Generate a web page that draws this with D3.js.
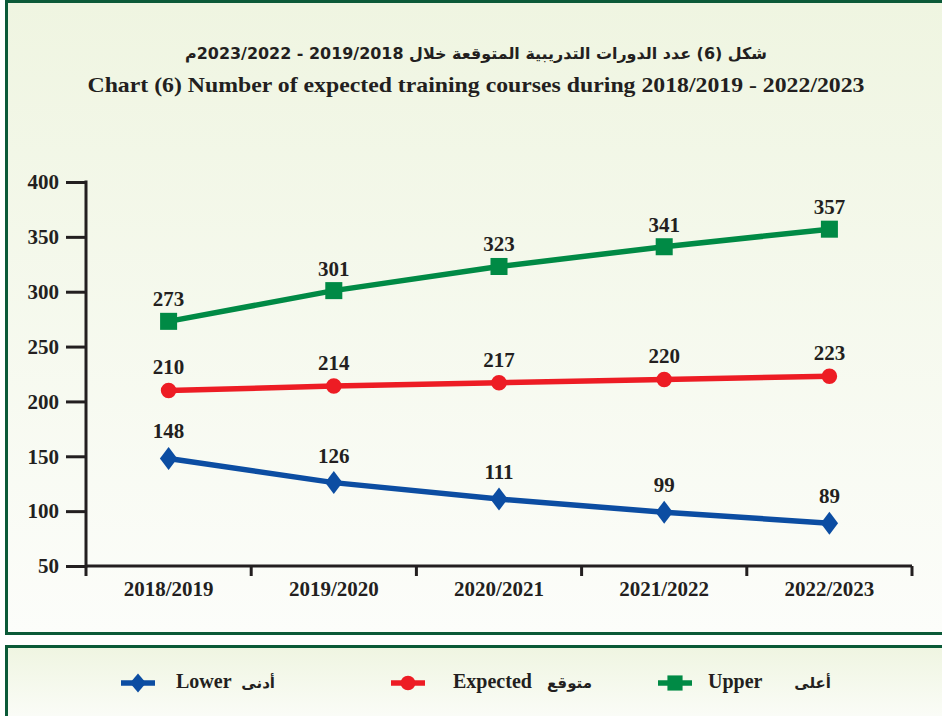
<!DOCTYPE html>
<html><head><meta charset="utf-8">
<script src="https://cdn.jsdelivr.net/npm/d3@7"></script>
<style>html,body{margin:0;padding:0;background:#fff}svg{display:block}</style>
</head><body>
<script>
const categories = ["2018/2019","2019/2020","2020/2021","2021/2022","2022/2023"];
const upper = [273,301,323,341,357];
const expected = [210,214,217,220,223];
const lower = [148,126,111,99,89];
const yTicks = [50,100,150,200,250,300,350,400];
const titleAr = "شكل (6) عدد الدورات التدريبية المتوقعة خلال 2019/2018 - 2023/2022م";
const titleEn = "Chart (6) Number of expected training courses during 2018/2019 - 2022/2023";
const seriesNames = [
  {en:"Lower", ar:"أدنى"},
  {en:"Expected", ar:"متوقع"},
  {en:"Upper", ar:"أعلى"}
];

const W=942,H=716;
const svg=d3.select("body").append("svg").attr("width",W).attr("height",H);
const defs=svg.append("defs");
["bg1","bg2"].forEach(id=>{
  const g=defs.append("linearGradient").attr("id",id).attr("x1",0).attr("y1",0).attr("x2",0).attr("y2",1);
  g.append("stop").attr("offset","0%").attr("stop-color","#eff5e1");
  g.append("stop").attr("offset","100%").attr("stop-color","#fcfdfa");
});

const frameCol="#0b5a38";
svg.append("rect").attr("x",6.5).attr("y",1.5).attr("width",W).attr("height",632)
  .attr("fill","url(#bg1)").attr("stroke",frameCol).attr("stroke-width",3);
svg.append("rect").attr("x",6.5).attr("y",646.5).attr("width",W).attr("height",80)
  .attr("fill","url(#bg2)").attr("stroke",frameCol).attr("stroke-width",3);

const serif="'Liberation Serif','Times New Roman',serif";
const arab="'DejaVu Sans','Noto Sans',sans-serif";
svg.append("text").attr("x",476).attr("y",59).attr("text-anchor","middle")
  .attr("direction","rtl").attr("font-family",arab)
  .attr("font-weight","bold").attr("font-size",16).attr("fill","#231f20")
  .attr("textLength",582).attr("lengthAdjust","spacingAndGlyphs").text(titleAr);
svg.append("text").attr("x",476).attr("y",92).attr("text-anchor","middle")
  .attr("font-family",serif).attr("font-weight","bold").attr("font-size",22)
  .attr("fill","#231f20").attr("textLength",777).attr("lengthAdjust","spacingAndGlyphs").text(titleEn);

const x=d3.scaleBand().domain(categories).range([86,912]);
const y=d3.scaleLinear().domain([50,400]).range([566,182]);

const ya=svg.append("g").attr("transform","translate(86,0)")
  .call(d3.axisLeft(y).tickValues(yTicks).tickSize(20).tickPadding(7).tickFormat(d3.format("d")));
const xa=svg.append("g").attr("transform","translate(0,566)")
  .call(d3.axisBottom(x).tickSize(0).tickPadding(15));
const bounds=categories.map(c=>x(c)).concat([x.range()[1]]);
xa.selectAll("line.b").data(bounds).join("line").attr("class","b")
  .attr("x1",d=>d).attr("x2",d=>d).attr("y1",0).attr("y2",10)
  .attr("stroke","#231f20").attr("stroke-width",3);
[ya,xa].forEach(a=>{
  a.attr("font-size",21).attr("font-family",serif);
  a.select(".domain").attr("stroke","#231f20").attr("stroke-width",3);
  a.selectAll(".tick line").attr("stroke","#231f20").attr("stroke-width",3);
  a.selectAll("text").attr("font-family",serif).attr("font-weight","bold")
    .style("font-size","21px").attr("fill","#231f20");
});
ya.select(".domain").attr("d","M0,"+(y(400)-1.5)+"V"+(y(50)+1.5));
xa.select(".domain").attr("d","M86,0H912");

const makeDiamond=(w,h)=>({draw(ctx){ctx.moveTo(0,-h);ctx.lineTo(w,0);ctx.lineTo(0,h);ctx.lineTo(-w,0);ctx.closePath();}});
const cx=c=>x(c)+x.bandwidth()/2;
const series=[
  {data:upper,color:"#008a45",sym:d3.symbolSquare,size:290,lsym:d3.symbolSquare,lsize:230,off:-15},
  {data:expected,color:"#ed1c24",sym:d3.symbolCircle,size:190,lsym:d3.symbolCircle,lsize:170,off:-16},
  {data:lower,color:"#0c4da2",sym:makeDiamond(8.7,11.5),size:1,lsym:makeDiamond(8,9.5),lsize:1,off:-20}
];
const line=d3.line().x((d,i)=>cx(categories[i])).y(d=>y(d));
series.forEach(s=>{
  svg.append("path").datum(s.data).attr("d",line).attr("fill","none")
    .attr("stroke",s.color).attr("stroke-width",5.5);
  svg.selectAll(null).data(s.data).join("path")
    .attr("transform",(d,i)=>`translate(${cx(categories[i])},${y(d)})`)
    .attr("d",d3.symbol().type(s.sym).size(s.size)).attr("fill",s.color);
  svg.selectAll(null).data(s.data).join("text")
    .attr("x",(d,i)=>cx(categories[i])).attr("y",d=>y(d)+s.off)
    .attr("text-anchor","middle").attr("font-family",serif).attr("font-weight","bold")
    .attr("font-size",21).attr("fill","#231f20").text(d=>d);
});

// legend
const legSeries=[series[2],series[1],series[0]];
const legPos=[{lx:121,en:176,ar:275},{lx:391,en:453,ar:592},{lx:658,en:708,ar:831}];
const ly=683;
legSeries.forEach((s,i)=>{
  const p=legPos[i];
  svg.append("line").attr("x1",p.lx).attr("x2",p.lx+34).attr("y1",ly).attr("y2",ly)
    .attr("stroke",s.color).attr("stroke-width",5.5);
  svg.append("path").attr("transform",`translate(${p.lx+17},${ly})`)
    .attr("d",d3.symbol().type(s.lsym).size(s.lsize)).attr("fill",s.color);
  svg.append("text").attr("x",p.en).attr("y",ly+5).attr("font-family",serif)
    .attr("font-weight","bold").attr("font-size",20).attr("fill","#231f20").text(seriesNames[i].en);
  svg.append("text").attr("x",p.ar).attr("y",ly+5).attr("text-anchor","start").attr("direction","rtl")
    .attr("font-family",arab)
    .attr("font-weight","bold").attr("font-size",15).attr("fill","#231f20").text(seriesNames[i].ar);
});
</script>
</body></html>
